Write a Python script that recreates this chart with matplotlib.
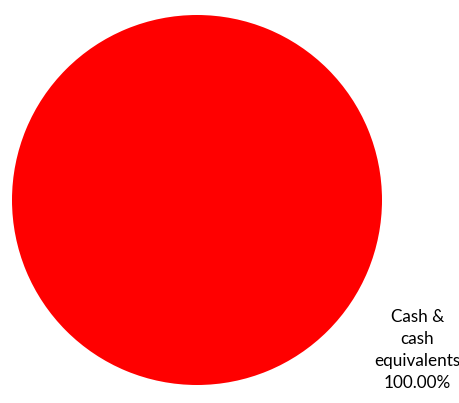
import matplotlib
matplotlib.use("Agg")
import matplotlib.pyplot as plt

categories = ["Cash &\ncash\nequivalents"]
values = [100.0]
colors = ["#ff0000"]

fig = plt.figure(figsize=(4.6, 4.03), dpi=100)
ax = fig.add_axes([12 / 460, 18 / 403, 370 / 460, 370 / 403])
ax.pie(values, colors=colors, radius=1.0, startangle=90, counterclock=False)
ax.set_xlim(-1, 1)
ax.set_ylim(-1, 1)
ax.set_aspect("equal")
ax.axis("off")

total = sum(values)
for name, v in zip(categories, values):
    ax.text(1.19, -0.81, f"{name}\n{v / total * 100:.2f}%", ha="center", va="center",
            fontsize=12.3, family=["Lato", "DejaVu Sans"], linespacing=1.45, clip_on=False)

fig.savefig("out.png", dpi=100)
